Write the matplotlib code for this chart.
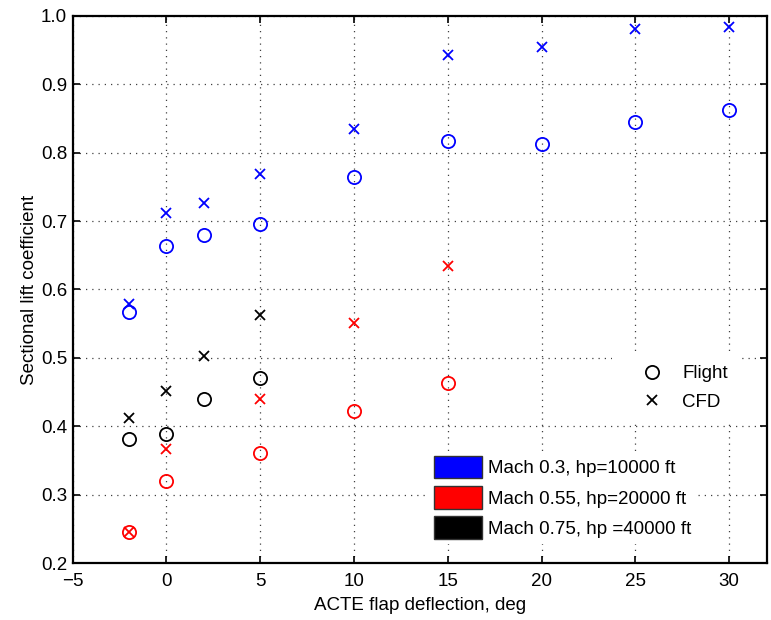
import numpy as np
import matplotlib.pyplot as plt
from matplotlib.lines import Line2D
from matplotlib.patches import Patch

plt.rcParams['font.family'] = ['Liberation Sans', 'DejaVu Sans']

######################## data
# Mach 0.3, hp=10000 ft
x_m03 = [-2, 0, 2, 5, 10, 15, 20, 25, 30]
flt_m03 = [0.567, 0.663, 0.679, 0.696, 0.764, 0.817, 0.812, 0.845, 0.862]
cfd_m03 = [0.579, 0.712, 0.726, 0.769, 0.835, 0.942, 0.955, 0.980, 0.983]

# Mach 0.55, hp=20000 ft
x_m055 = [-2, 0, 5, 10, 15]
flt_m055 = [0.246, 0.320, 0.361, 0.422, 0.464]
cfd_m055 = [0.246, 0.367, 0.440, 0.551, 0.634]

# Mach 0.75, hp=40000 ft
x_m075 = [-2, 0, 2, 5]
flt_m075 = [0.381, 0.389, 0.440, 0.470]
cfd_m075 = [0.413, 0.451, 0.503, 0.563]

case_labels = ["Mach 0.3, hp=10000 ft", "Mach 0.55, hp=20000 ft",
               "Mach 0.75, hp =40000 ft"]
case_colors = ["#0000ff", "#ff0000", "#000000"]

######################## plot
W, H = 771, 620
fs = 13.5
fig = plt.figure(figsize=(W/100, H/100), dpi=100)
ax = fig.add_axes([72.7/W, 1-563.3/H, (766.7-72.7)/W, (563.3-15.7)/H])

series = [(x_m03, flt_m03, cfd_m03), (x_m055, flt_m055, cfd_m055),
          (x_m075, flt_m075, cfd_m075)]
for (xs, yf, yc), c in zip(series, case_colors):
    ax.plot(xs, yf, 'o', ms=9.5, mfc='none', mec=c, mew=1.3, zorder=3)
    ax.plot(xs, yc, 'x', ms=6.5, mec=c, mew=1.3, zorder=3)

ax.set_xlim(-5, 32)
ax.set_ylim(0.2, 1.0)
ax.set_xticks(np.arange(-5, 31, 5))
ax.set_yticks(np.arange(0.2, 1.01, 0.1))
ax.set_yticklabels(["%.1f" % v for v in np.arange(0.2, 1.01, 0.1)])
ax.grid(True, color='0.25', lw=0.9, linestyle=(0, (1, 4)))
ax.tick_params(direction='in', top=True, right=True, labelsize=fs, length=5,
               width=1.2)
ax.tick_params(axis='x', pad=7)
ax.tick_params(axis='y', pad=4)
for s in ax.spines.values():
    s.set_linewidth(1.6)

ax.set_xlabel("ACTE flap deflection, deg", fontsize=fs, labelpad=5)
ax.set_ylabel("Sectional lift coefficient", fontsize=fs, labelpad=2)

# marker legend
h1 = [Line2D([], [], ls='none', marker='o', ms=9.5, mfc='none', mec='k', mew=1.3),
      Line2D([], [], ls='none', marker='x', ms=6.5, mec='k', mew=1.3)]
leg1 = ax.legend(h1, ["Flight", "CFD"], loc='upper left',
                 bbox_to_anchor=(612/W, 1-355/H), bbox_transform=fig.transFigure,
                 fontsize=fs, frameon=True, fancybox=False, edgecolor='none',
                 facecolor='white', framealpha=1, handlelength=3.2,
                 handletextpad=0.0, labelspacing=0.6, borderpad=0.55,
                 borderaxespad=0)
ax.add_artist(leg1)

# case legend
h2 = [Patch(facecolor=c, edgecolor='0.2', lw=1) for c in case_colors]
ax.legend(h2, case_labels, loc='upper left',
          bbox_to_anchor=(428/W, 1-450.5/H), bbox_transform=fig.transFigure,
          fontsize=fs, frameon=True, fancybox=False, edgecolor='none',
          facecolor='white', framealpha=1, handlelength=2.6, handleheight=1.45,
          handletextpad=0.3, labelspacing=0.42, borderpad=0.3,
          borderaxespad=0)

fig.savefig("out.png", dpi=100)
